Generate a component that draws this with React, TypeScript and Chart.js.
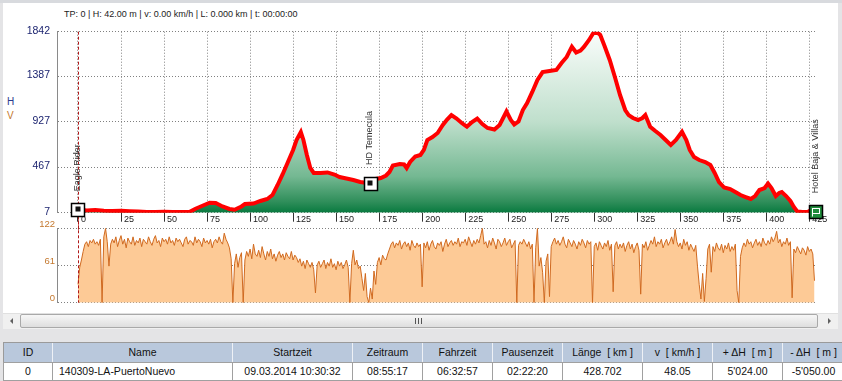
import React, { useEffect, useRef } from 'react';
import { Chart, registerables } from 'chart.js';

Chart.register(...registerables);

// ---------- data ----------
const KM_MIN = -12.2;
const KM_MAX = 428.7;
const X_TICKS = [0, 25, 50, 75, 100, 125, 150, 175, 200, 225, 250, 275, 300, 325, 350, 375, 400, 425];
const ELEV_TICKS = [7, 467, 927, 1387, 1842];
const SPEED_TICKS = [0, 61, 122];

const elevKm = [0, 5, 10, 15, 20, 25, 30, 35, 40, 45, 50, 55, 60, 65, 68, 72, 76.5, 80, 84, 88, 91, 95, 97, 102, 106, 110, 113, 116, 119, 122, 125, 127, 129.5, 131, 133, 135, 137, 141, 145, 149, 152, 156, 160, 164, 168, 170, 173, 176, 179, 181, 183, 187, 189.5, 191, 193, 196, 199, 201, 203, 206, 209, 212, 214.5, 217, 220, 223, 226, 229, 232, 235, 238, 242, 245, 249, 251.5, 253.5, 256, 258.5, 261, 264, 267, 270, 274, 278, 281, 284, 287, 289.5, 292, 294, 297, 299.5, 301.5, 303.5, 306, 309, 312, 315, 318, 320, 322.5, 325.5, 328, 329.7, 332.5, 335.5, 338.5, 341.5, 344.5, 347.5, 351, 353.5, 355.5, 358, 361, 364.5, 367.5, 370, 372.5, 375.5, 379, 382, 385, 388, 391, 393.5, 396, 399, 401, 403, 405.5, 407.5, 409, 411.5, 414, 416, 418, 421, 424, 426, 428.7];
const elevM = [42, 30, 34, 26, 24, 27, 22, 18, 15, 14, 16, 14, 15, 16, 45, 75, 108, 105, 70, 45, 37, 70, 95, 100, 126, 146, 186, 288, 400, 521, 643, 744, 825, 744, 592, 460, 410, 410, 415, 394, 369, 354, 338, 318, 308, 318, 349, 359, 384, 420, 485, 501, 496, 460, 521, 577, 592, 643, 744, 774, 815, 896, 952, 997, 962, 916, 879, 926, 962, 906, 866, 850, 896, 1033, 947, 901, 932, 1048, 1119, 1231, 1352, 1433, 1444, 1454, 1525, 1586, 1690, 1631, 1651, 1687, 1758, 1829, 1840, 1809, 1697, 1555, 1383, 1200, 1048, 997, 967, 947, 967, 997, 879, 835, 795, 744, 693, 744, 828, 744, 643, 572, 541, 521, 491, 410, 318, 262, 247, 217, 186, 166, 146, 176, 237, 257, 303, 257, 176, 207, 217, 176, 126, 65, 19, 14, 14, 34, 22];

// speed in km/h, one reading per km from km 0
const SPEED_STEP_KM = 1;
const speedKmh = [
  30, 58, 70, 84, 96, 100, 92, 102, 98, 104, 96, 100, 94, 104, 0, 108, 122, 100, 60, 96,
  104, 98, 108, 92, 102, 110, 96, 104, 90, 106, 100, 96, 108, 94, 102, 98, 106, 92, 104, 100,
  96, 108, 100, 94, 104, 110, 98, 102, 92, 106, 100, 104, 96, 108, 98, 102, 94, 106, 100, 104,
  98, 92, 104, 108, 96, 102, 100, 94, 108, 98, 104, 100, 92, 106, 98, 102, 96, 104, 90, 100,
  104, 98, 108, 100, 96, 114, 104, 98, 90, 72, 0, 64, 80, 58, 74, 82, 0, 70, 84, 76,
  88, 72, 96, 80, 76, 86, 74, 92, 80, 70, 84, 76, 88, 72, 80, 68, 78, 84, 74, 80,
  70, 82, 76, 72, 84, 70, 78, 74, 66, 72, 60, 68, 56, 70, 64, 58, 66, 54, 16, 62,
  68, 58, 64, 70, 56, 66, 60, 72, 58, 64, 54, 68, 60, 66, 56, 62, 70, 58, 0, 64,
  86, 62, 70, 56, 60, 40, 20, 48, 10, 0, 24, 6, 52, 30, 66, 74, 62, 78, 72, 70,
  80, 88, 96, 100, 90, 98, 94, 102, 88, 96, 100, 92, 98, 86, 102, 94, 90, 98, 92, 96,
  26, 98, 90, 100, 86, 96, 102, 92, 88, 98, 94, 100, 84, 96, 104, 92, 98, 102, 94, 100,
  96, 106, 92, 100, 98, 104, 94, 108, 100, 92, 102, 96, 104, 98, 110, 122, 96, 100, 90, 102,
  94, 106, 98, 88, 104, 100, 92, 98, 106, 94, 100, 104, 90, 96, 102, 0, 94, 100, 96, 104,
  98, 92, 100, 88, 96, 0, 90, 122, 60, 74, 50, 0, 68, 80, 10, 92, 100, 106, 96, 102,
  94, 100, 108, 96, 90, 104, 98, 92, 102, 96, 88, 100, 94, 104, 98, 90, 102, 96, 100, 0,
  92, 98, 86, 100, 94, 88, 98, 92, 102, 86, 96, 18, 94, 100, 88, 96, 90, 98, 84, 94,
  100, 88, 96, 82, 92, 98, 86, 14, 96, 90, 100, 86, 94, 102, 96, 108, 92, 100, 96, 104,
  90, 98, 104, 94, 100, 108, 96, 120, 100, 92, 98, 88, 104, 94, 100, 86, 96, 90, 84, 94,
  60, 30, 6, 48, 2, 40, 88, 96, 50, 92, 84, 98, 90, 86, 96, 82, 94, 88, 98, 84,
  92, 86, 96, 20, 0, 76, 90, 98, 92, 104, 96, 100, 90, 98, 104, 94, 100, 92, 106, 98,
  94, 102, 96, 108, 100, 106, 117, 98, 104, 92, 100, 96, 106, 94, 100, 8, 88, 82, 92, 86,
  80, 90, 86, 78, 92, 84, 88, 80, 36,
];

const CURSOR_KM = 0;
const waypointKm = [0, 169.7, 428.7];
const waypointElev = [42, 308, 22];
const waypointNames = ['Eagle Rider', 'HD Temecula', 'Hotel Baja & Villas'];

const HEADER_TEXT = 'TP: 0 | H: 42.00 m | v: 0.00 km/h | L: 0.000 km | t: 00:00:00';

const tableHeaders = ['ID', 'Name', 'Startzeit', 'Zeitraum', 'Fahrzeit', 'Pausenzeit', 'Länge  [ km ]', 'v  [ km/h ]', '+ ΔH  [ m ]', '- ΔH  [ m ]'];
const tableRow = ['0', '140309-LA-PuertoNuevo', '09.03.2014 10:30:32', '08:55:17', '06:32:57', '02:22:20', '428.702', '48.05', "5'024.00", "-5'050.00"];

// ---------- layout ----------
const W = 842;
const ELEV_H = 232;
const SPEED_TOP = 212;
const SPEED_H = 100;
const PLOT_LEFT = 57;
const PLOT_RIGHT = 815.7;
const colWidths = [50, 180, 120, 70, 70, 70, 80, 70, 70, 62];

const FONT = '"Liberation Sans", Arial, sans-serif';
const ELEV_COLOR = '#1d2570';
const SPEED_COLOR = '#c4782e';

const elevOverlay = {
  id: 'elevOverlay',
  afterDatasetsDraw(chart: any) {
    const { ctx, chartArea } = chart;
    const xs = chart.scales.x;
    const ys = chart.scales.y;
    const cx = Math.round(xs.getPixelForValue(CURSOR_KM)) + 0.5;
    ctx.save();
    ctx.strokeStyle = '#b01818';
    ctx.lineWidth = 1;
    ctx.setLineDash([3, 2]);
    ctx.beginPath();
    ctx.moveTo(cx, chartArea.top);
    ctx.lineTo(cx, chart.height);
    ctx.stroke();
    ctx.setLineDash([]);
    const s = 13;
    waypointKm.forEach((km, i) => {
      const px = xs.getPixelForValue(km);
      const py = ys.getPixelForValue(waypointElev[i]);
      const bx = Math.round(px - s / 2) + 0.5;
      const by = Math.round(py - s / 2) + 0.5;
      const isEnd = i === waypointKm.length - 1;
      if (isEnd) {
        ctx.fillStyle = '#1f8c3b';
        ctx.fillRect(bx, by, s, s);
        ctx.strokeStyle = '#ffffff';
        ctx.lineWidth = 1;
        ctx.strokeRect(bx + 3, by + 3, 7, 5);
        ctx.beginPath();
        ctx.moveTo(bx + 3, by + 3);
        ctx.lineTo(bx + 3, by + 11);
        ctx.stroke();
      } else {
        ctx.fillStyle = '#ffffff';
        ctx.fillRect(bx, by, s, s);
        ctx.fillStyle = '#111111';
        ctx.fillRect(Math.round(px) - 2.5, Math.round(py) - 2.5, 5, 5);
      }
      ctx.strokeStyle = '#000000';
      ctx.lineWidth = 1.5;
      ctx.strokeRect(bx, by, s, s);
      ctx.save();
      ctx.translate(Math.round(px), py - 18);
      ctx.rotate(-Math.PI / 2);
      ctx.font = '9px ' + FONT;
      ctx.fillStyle = '#333333';
      ctx.textAlign = 'left';
      ctx.textBaseline = 'middle';
      ctx.fillText(waypointNames[i], 0, 0);
      ctx.restore();
    });
    ctx.restore();
  },
};

const speedOverlay = {
  id: 'speedOverlay',
  afterDatasetsDraw(chart: any) {
    const { ctx, chartArea } = chart;
    const cx = Math.round(chart.scales.x.getPixelForValue(CURSOR_KM)) + 0.5;
    ctx.save();
    ctx.strokeStyle = '#b01818';
    ctx.lineWidth = 1;
    ctx.setLineDash([3, 2]);
    ctx.beginPath();
    ctx.moveTo(cx, chartArea.top - 8);
    ctx.lineTo(cx, chartArea.bottom);
    ctx.stroke();
    ctx.restore();
  },
};

export default function App() {
  const elevRef = useRef<HTMLCanvasElement>(null);
  const speedRef = useRef<HTMLCanvasElement>(null);

  useEffect(() => {
    Chart.defaults.font.family = FONT;
    const elevChart = new Chart(elevRef.current as HTMLCanvasElement, {
      type: 'line',
      data: {
        datasets: [
          {
            data: elevKm.map((k, i) => ({ x: k, y: elevM[i] })),
            borderColor: '#ff0000',
            borderWidth: 4,
            pointRadius: 0,
            tension: 0,
            fill: 'start',
            backgroundColor: (c: any) => {
              const area = c.chart.chartArea;
              if (!area) return 'rgba(0,0,0,0)';
              const g = c.chart.ctx.createLinearGradient(0, area.top, 0, area.bottom);
              g.addColorStop(0, '#fafdfb');
              g.addColorStop(0.5, '#bfdfcc');
              g.addColorStop(0.8, '#74b892');
              g.addColorStop(0.94, '#2f8e5a');
              g.addColorStop(1, '#087a3f');
              return g;
            },
          },
        ],
      },
      options: {
        animation: false,
        responsive: false,
        maintainAspectRatio: false,
        layout: { padding: { top: 31.7, right: W - PLOT_RIGHT, left: 0, bottom: 0 } },
        plugins: { legend: { display: false }, tooltip: { enabled: false } },
        scales: {
          x: {
            type: 'linear',
            min: KM_MIN,
            max: KM_MAX,
            afterBuildTicks: (a: any) => { a.ticks = X_TICKS.map((v) => ({ value: v })); },
            afterFit: (s: any) => { s.height = ELEV_H - 212.7; },
            grid: { color: '#808080', lineWidth: 1, drawTicks: true, tickLength: 9, tickColor: '#333333', tickWidth: 1 },
            border: { display: false, dash: [1, 2] },
            ticks: {
              autoSkip: false, maxRotation: 0, align: 'start', labelOffset: 3, padding: -8,
              color: '#222222', font: { size: 9 },
              callback: (v: any) => String(v),
            },
          },
          y: {
            type: 'linear',
            min: 7,
            max: 1842,
            afterBuildTicks: (a: any) => { a.ticks = ELEV_TICKS.map((v) => ({ value: v })); },
            afterFit: (s: any) => { s.width = PLOT_LEFT; },
            grid: { color: '#808080', lineWidth: 1, drawTicks: false },
            border: { display: true, color: '#8a8a8a', width: 1, dash: [1, 2] },
            ticks: { padding: 7, labelOffset: -1, color: ELEV_COLOR, font: { size: 10.5 }, callback: (v: any) => String(v) },
          },
        },
      } as any,
      plugins: [elevOverlay],
    });

    const speedChart = new Chart(speedRef.current as HTMLCanvasElement, {
      type: 'line',
      data: {
        datasets: [
          {
            data: speedKmh.map((v, i) => ({ x: i * SPEED_STEP_KM, y: v })),
            borderColor: '#d06a20',
            borderWidth: 1,
            pointRadius: 0,
            tension: 0,
            fill: 'start',
            backgroundColor: '#fdca96',
          },
        ],
      },
      options: {
        animation: false,
        responsive: false,
        maintainAspectRatio: false,
        layout: { padding: { top: 228.3 - SPEED_TOP, right: W - PLOT_RIGHT, left: 0, bottom: SPEED_TOP + SPEED_H - 302.7 } },
        plugins: { legend: { display: false }, tooltip: { enabled: false } },
        scales: {
          x: { type: 'linear', min: KM_MIN, max: KM_MAX, display: false },
          y: {
            type: 'linear',
            min: 0,
            max: 122,
            afterBuildTicks: (a: any) => { a.ticks = SPEED_TICKS.map((v) => ({ value: v })); },
            afterFit: (s: any) => { s.width = PLOT_LEFT; },
            grid: { color: '#808080', lineWidth: 1, drawTicks: false },
            border: { display: true, color: '#8a8a8a', width: 1, dash: [1, 2] },
            ticks: { padding: 2, labelOffset: -4, color: SPEED_COLOR, font: { size: 9.5 }, callback: (v: any) => String(v) },
          },
        },
      } as any,
      plugins: [speedOverlay],
    });

    return () => {
      elevChart.destroy();
      speedChart.destroy();
    };
  }, []);

  const cellBase: React.CSSProperties = {
    boxSizing: 'border-box',
    overflow: 'hidden',
    whiteSpace: 'pre',
    textAlign: 'center',
    flex: 'none',
  };

  return (
    <div style={{ position: 'absolute', left: 0, top: 0, width: W, height: 381, background: '#e4e4e6', overflow: 'hidden', fontFamily: FONT }}>
      <div style={{ position: 'absolute', left: 0, top: 0, width: W, height: 3, background: '#d8dade' }} />
      <div style={{ position: 'absolute', left: 3, top: 3, width: 835, height: 310, background: '#ffffff' }} />
      <div style={{ position: 'absolute', left: 64, top: 9, fontSize: 9, color: '#222', whiteSpace: 'pre', lineHeight: '11px' }}>{HEADER_TEXT}</div>
      <div style={{ position: 'absolute', left: 7, top: 96, fontSize: 10, color: '#2a3a8c', lineHeight: '12px' }}>H</div>
      <div style={{ position: 'absolute', left: 7, top: 110, fontSize: 10, color: SPEED_COLOR, lineHeight: '12px' }}>V</div>
      <canvas ref={elevRef} width={W} height={ELEV_H} style={{ position: 'absolute', left: 0, top: 0, width: W, height: ELEV_H }} />
      <canvas ref={speedRef} width={W} height={SPEED_H} style={{ position: 'absolute', left: 0, top: SPEED_TOP, width: W, height: SPEED_H }} />

      {/* scrollbar */}
      <div style={{ position: 'absolute', left: 3, top: 313, width: 835, height: 16, background: '#f0f0f0', borderTop: '1px solid #e0e0e0', boxSizing: 'border-box' }} />
      <div style={{ position: 'absolute', left: 10, top: 318, width: 0, height: 0, borderTop: '3px solid transparent', borderBottom: '3px solid transparent', borderRight: '3px solid #606060' }} />
      <div style={{ position: 'absolute', left: 20, top: 314, width: 798, height: 14, boxSizing: 'border-box', border: '1px solid #a9a9a9', borderRadius: 2, background: 'linear-gradient(#f7f7f7, #dedede)' }} />
      <div style={{ position: 'absolute', left: 415, top: 318, width: 1, height: 6, background: '#555' }} />
      <div style={{ position: 'absolute', left: 418, top: 318, width: 1, height: 6, background: '#555' }} />
      <div style={{ position: 'absolute', left: 421, top: 318, width: 1, height: 6, background: '#555' }} />
      <div style={{ position: 'absolute', left: 828, top: 318, width: 0, height: 0, borderTop: '3px solid transparent', borderBottom: '3px solid transparent', borderLeft: '3px solid #606060' }} />

      {/* table */}
      <div style={{ position: 'absolute', left: 3, top: 342, width: 839, overflow: 'hidden', fontSize: 10.5, color: '#111' }}>
        <div style={{ display: 'flex', height: 20, background: '#b9c8dc', borderTop: '1px solid #9a9a9a', boxSizing: 'border-box' }}>
          {tableHeaders.map((h, i) => (
            <div key={i} style={{ ...cellBase, width: colWidths[i], height: 19, lineHeight: '19px', borderRight: '1px solid #eef1f6', borderLeft: i === 0 ? '1px solid #9a9a9a' : 'none' }}>{h}</div>
          ))}
        </div>
        <div style={{ display: 'flex', height: 19, background: '#ffffff', borderTop: '1px solid #a0a0a0', borderBottom: '1px solid #a0a0a0', boxSizing: 'border-box' }}>
          {tableRow.map((t, i) => (
            <div key={i} style={{ ...cellBase, width: colWidths[i], height: 17, lineHeight: '17px', borderRight: '1px solid #a0a0a0', borderLeft: i === 0 ? '1px solid #a0a0a0' : 'none', textAlign: i === 1 ? 'left' : 'center', paddingLeft: i === 1 ? 6 : 0 }}>{t}</div>
          ))}
        </div>
      </div>
    </div>
  );
}
